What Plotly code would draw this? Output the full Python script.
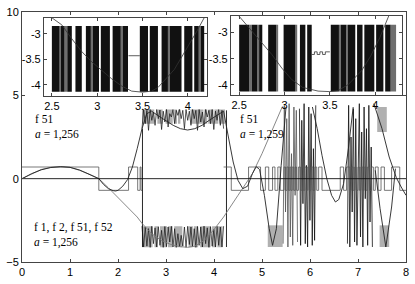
import plotly.graph_objects as go

# ---------------- data ----------------
x_ticks = [0, 1, 2, 3, 4, 5, 6, 7, 8]
y_ticks = [-5, 0, 5, 10]
inset_x_ticks = [2.5, 3, 3.5, 4]
inset_y_ticks = [-3, -3.5, -4]

# slow curve (grey)
q_x = [0, 0.2, 0.4, 0.6, 0.85, 1.0, 1.2, 1.4, 1.6, 1.8, 2.0, 2.2, 2.4, 2.5, 2.7, 2.9, 3.1, 3.3,
       3.45, 3.6, 3.8, 4.0, 4.2, 4.5, 4.8, 5.0, 5.17, 5.3, 5.42]
q_y = [0, 0.3, 0.55, 0.68, 0.72, 0.68, 0.5, 0.27, 0.0, -0.55, -1.15, -1.75, -2.3, -2.68, -3.3, -3.7,
       -3.95, -4.08, -4.12, -4.05, -3.7, -3.05, -2.3, -1.0, 0.3, 1.5, 2.6, 3.5, 4.3]

# fast curve (black)
p_x = [0, 0.2, 0.4, 0.6, 0.8, 0.9, 1.0, 1.2, 1.4, 1.6, 1.7, 1.8, 1.9, 1.95, 2.0, 2.1, 2.2, 2.3, 2.4,
       2.5, 2.6, 2.7, 2.85, 3.0, 3.15, 3.3, 3.45, 3.6, 3.75, 3.9, 4.05, 4.2, 4.3, 4.4, 4.5, 4.6, 4.7,
       4.8, 4.88, 4.95, 5.05, 5.15, 5.22, 5.3, 5.4, 5.5, None,
       6.05, 6.15, 6.25, 6.35, 6.45, 6.53, 6.6, 6.7, 6.8, 6.9, None,
       7.33, 7.5, 7.65, 7.8, 7.9, 8.0, None,
       7.36, 7.46, 7.58, 7.7, 7.78]
p_y = [0, 0.3, 0.53, 0.67, 0.72, 0.71, 0.68, 0.52, 0.28, 0.0, -0.35, -0.6, -0.72, -0.74, -0.7, -0.45,
       -0.05, 0.7, 1.8, 3.0, 3.9, 4.05, 3.75, 3.45, 3.2, 3.0, 2.92, 3.0, 3.2, 3.5, 3.8, 4.05, 2.5, 1.0,
       -0.1, -0.6, -0.45, 0.3, 0.72, 0.55, -1.0, -3.0, -4.0, -3.0, 0.8, 4.3, None,
       4.3, 3.0, 1.4, 0.0, -1.0, -1.4, -1.25, -0.3, 1.8, 4.3, None,
       4.5, 3.0, 1.3, 0.05, -0.5, -1.0, None,
       0.5, -1.8, -4.1, -1.7, 0.6]

# sign-like square wave (+-0.7)
sq_x = [0, 1.6, 2.22, 2.41, 2.46, 2.48, 2.5, None,
        4.2, 4.36, 4.72, 4.97, 5.07, 5.14, 5.22, 5.27, 5.33, 5.38, 5.46, 5.49, 5.52, 5.55, 5.58,
        5.6, 5.63, 5.66, 5.69, 5.72, 5.76, 5.8, 5.83, 5.86, 5.89, 5.92, 5.95, 5.98, 6.02, 6.06,
        6.1, 6.14, 6.18, 6.25, 6.63, 6.7, 6.76, 6.83, 6.86, 6.9, 6.93, 6.96, 7.0, 7.03, 7.06,
        7.1, 7.13, 7.17, 7.2, 7.24, 7.28, 7.32, 7.36, 7.42, 7.48, 7.55, 7.7, 7.87, 8.0]
sq_y = [0.7, -0.7, 0.7, -0.7, 0.7, -0.7, -0.7, None,
        0.7, -0.7, 0.7, -0.7, 0.7, -0.7, 0.7, -0.7, 0.7, -0.7, 0.7, -0.7, 0.7, -0.7, 0.7,
        -0.7, 0.7, -0.7, 0.7, -0.7, 0.7, -0.7, 0.7, -0.7, 0.7, -0.7, 0.7, -0.7, 0.7, -0.7,
        0.7, -0.7, 0.7, -0.7, 0.7, -0.7, 0.7, -0.7, 0.7, -0.7, 0.7, -0.7, 0.7, -0.7, 0.7,
        -0.7, 0.7, -0.7, 0.7, -0.7, 0.7, -0.7, 0.7, -0.7, 0.7, -0.7, 0.7, -0.7, -0.7]

# chaotic bands of the main plot, 2.5 .. 4.2
band_start, band_end = 2.5, 4.2
low_band = [-2.85, -4.10, -2.90, -4.05, -3.00, -4.12, -2.86, -3.90, -2.95, -4.10,
            -2.88, -4.00, -3.10, -4.12, -2.87, -4.08, -2.90, -3.80, -2.86, -4.10,
            -3.00, -4.12, -3.30, -4.10, -3.40, -4.05, -2.90, -4.12, -2.86, -3.95,
            -2.90, -4.10, -3.00, -4.12, -2.87, -4.00, -2.90, -4.10, -2.85, -3.90,
            -2.95, -4.12, -2.88, -4.05, -3.05, -4.10, -2.86, -4.00, -2.90, -4.10, -2.85]
up_band = [3.0, 4.15, 3.3, 4.10, 2.9, 4.15, 3.5, 4.0, 3.2, 4.15,
           3.6, 4.12, 2.95, 4.05, 3.4, 4.15, 3.1, 3.9, 3.7, 4.15,
           3.3, 4.1, 3.8, 4.15, 3.6, 4.1, 3.0, 4.15, 3.5, 4.05,
           3.2, 4.15, 3.6, 4.1, 2.9, 4.15, 3.4, 4.0, 3.1, 4.15,
           3.7, 4.1, 3.3, 4.15, 2.95, 4.05, 3.5, 4.15, 3.2, 4.1, 3.0]
jump_x = [2.51, 2.51, None, 4.26, 4.26]
jump_y = [3.0, -4.1, None, 4.1, -4.1]

# chaotic spikes on the right
spk1_start, spk1_end = 5.44, 5.74
spk1 = [-3.9, 4.4, -2.0, 3.6, -4.1, 4.5, -3.5, 1.5, -4.0, 4.3, -1.0, 4.1, -3.8]
spk2_start, spk2_end = 5.78, 6.12
spk2 = [4.2, -4.0, 3.5, -1.5, 4.5, -3.9, 0.8, -4.1, 4.3, -2.5, 3.9, -4.0, 1.8, -3.7, 4.4]
spk3_start, spk3_end = 6.78, 7.30
spk3 = [-3.9, 4.4, -4.1, 2.5, -2.0, 4.2, -3.8, 3.6, -4.0, 1.0, 4.5, -3.5, 2.8, -4.1, 4.3, -1.2,
        3.0, -4.0, 4.4, -2.6, 1.9, -4.1]
extra_blocks = [(5.12, 5.43, -4.1, -2.8), (7.40, 7.60, 2.8, 4.3), (7.45, 7.65, -4.1, -2.8)]

# inset a = 1,256 (left) : dense bursts between -2.85 and -4.13
inL_black = [(2.50, 2.585), (2.60, 2.64), (2.67, 2.72), (2.76, 2.83), (2.875, 2.93), (2.95, 3.02),
             (3.04, 3.14), (3.17, 3.26), (3.28, 3.34), (3.47, 3.56), (3.58, 3.67), (3.71, 3.78),
             (3.80, 3.93), (3.96, 4.05), (4.07, 4.12), (4.14, 4.18)]
inL_grey = [(2.585, 2.60), (2.64, 2.67), (2.93, 2.95), (3.26, 3.28), (3.78, 3.80), (4.12, 4.14)]
uL_x = [2.5, 2.61, 2.72, 2.83, 2.94, 3.05, 3.16, 3.27, 3.38, 3.5, 3.6, 3.67, 3.75, 3.85, 3.93,
        4.02, 4.1, 4.18]
uL_y = [-2.69, -2.83, -3.1, -3.35, -3.55, -3.72, -3.88, -4.02, -4.12, -4.14, -4.12, -4.05, -3.9,
        -3.7, -3.46, -3.2, -2.95, -2.69]
stepL_x = [3.345, 3.47]
stepL_y = [-3.43, -3.43]

# inset a = 1,259 (right)
inR_black = [(2.50, 2.61), (2.64, 2.70), (2.72, 2.755), (2.82, 2.91), (2.99, 3.12), (3.17, 3.23),
             (3.25, 3.30), (3.51, 3.60), (3.62, 3.68), (3.70, 3.78), (3.80, 3.86), (3.88, 3.99),
             (4.01, 4.09), (4.11, 4.17)]
inR_grey = [(2.61, 2.64), (2.70, 2.72), (2.91, 2.93), (3.12, 3.14), (3.60, 3.62), (3.68, 3.70),
            (4.17, 4.23)]
uR_x = [2.48, 2.6, 2.75, 2.86, 2.97, 3.08, 3.2, 3.37, 3.5, 3.59, 3.7, 3.85, 3.95, 4.05, 4.15]
uR_y = [-2.65, -2.9, -3.2, -3.42, -3.68, -3.9, -4.05, -4.12, -4.13, -4.11, -4.0, -3.73, -3.45,
        -3.1, -2.68]
stepR_x = [3.30, 3.33, 3.36, 3.39, 3.42, 3.45, 3.50]
stepR_y = [-3.42, -3.37, -3.42, -3.37, -3.42, -3.37, -3.37]
inset_band = (-4.13, -2.85)

BLACK = "#111111"
GREY = "#7a7a7a"
BAND = "#b0b0b0"

fig = go.Figure()


def blocks(ranges, lo, hi, color, xa="x", ya="y"):
    xs, ys = [], []
    for a, b in ranges:
        xs += [a, b, b, a, a, None]
        ys += [lo, lo, hi, hi, lo, None]
    fig.add_trace(go.Scatter(x=xs, y=ys, mode="lines", fill="toself", fillcolor=color,
                             line=dict(width=0, color=color), xaxis=xa, yaxis=ya,
                             hoverinfo="skip", showlegend=False))


def line(x, y, color, width=0.8, xa="x", ya="y", shape="linear"):
    fig.add_trace(go.Scatter(x=x, y=y, mode="lines", line=dict(color=color, width=width, shape=shape),
                             xaxis=xa, yaxis=ya, hoverinfo="skip", showlegend=False,
                             connectgaps=False))


def seq(vals, start, end, color, width=0.8):
    dx = (end - start) / (len(vals) - 1)
    fig.add_trace(go.Scatter(y=vals, x0=start, dx=dx, mode="lines",
                             line=dict(color=color, width=width), hoverinfo="skip",
                             showlegend=False))


# ---- main plot ----
blocks(inL_black + inL_grey, -4.12, -2.86, BAND)
blocks(inR_black + inR_grey, 3.3, 4.15, BAND)
for a, b, lo, hi in extra_blocks:
    blocks([(a, b)], lo, hi, BAND)
seq(low_band, band_start, band_end, BLACK, 0.7)
seq(up_band, band_start, band_end, BLACK, 0.7)
line(jump_x, jump_y, BLACK, 0.9)
seq(spk1, spk1_start, spk1_end, "#555555", 0.8)
seq(spk2, spk2_start, spk2_end, BLACK, 0.8)
seq(spk3, spk3_start, spk3_end, BLACK, 0.8)
line(sq_x, sq_y, "#555555", 0.8, shape="hv")
line(q_x, q_y, GREY, 0.9)
line(p_x, p_y, "#222222", 0.9)
line([0, 8], [0, 0], BLACK, 0.9)

# ---- left inset ----
blocks(inL_grey, inset_band[0], inset_band[1], "#6e6e6e", "x2", "y2")
blocks(inL_black, inset_band[0], inset_band[1], BLACK, "x2", "y2")
line(uL_x, uL_y, "#333333", 0.8, "x2", "y2")
line(stepL_x, stepL_y, "#333333", 0.8, "x2", "y2")

# ---- right inset ----
blocks(inR_grey, inset_band[0], inset_band[1], "#6e6e6e", "x3", "y3")
blocks(inR_black, inset_band[0], inset_band[1], BLACK, "x3", "y3")
line(uR_x, uR_y, "#333333", 0.8, "x3", "y3")
line(stepR_x, stepR_y, "#333333", 0.8, "x3", "y3", shape="hv")

tickfont = dict(family="Liberation Sans, Arial, sans-serif", size=11, color="black")
ax_common = dict(showline=True, mirror="ticks", linecolor="#444444", linewidth=1,
                 ticks="inside", ticklen=3, tickcolor="#444444", showgrid=False,
                 zeroline=False, tickfont=tickfont, ticklabeloverflow="allow")

fig.update_layout(
    width=415, height=284,
    margin=dict(l=20, r=9, t=6, b=16),
    paper_bgcolor="white", plot_bgcolor="white",
    showlegend=False,
    xaxis=dict(domain=[0, 1], range=[0, 8], tickvals=x_ticks, **ax_common),
    yaxis=dict(domain=[0, 1], range=[-5, 10], tickvals=y_ticks, **ax_common),
    xaxis2=dict(domain=[0.057, 0.482], range=[2.412, 4.212], anchor="y2",
                tickvals=inset_x_ticks, ticktext=["2.5", "3", "3.5", "4"], **ax_common),
    yaxis2=dict(domain=[0.665, 0.977], range=[-4.21, -2.69], anchor="x2",
                tickvals=inset_y_ticks, ticktext=["-3", "-3.5", "-4"], **ax_common),
    xaxis3=dict(domain=[0.544, 0.99], range=[2.409, 4.297], anchor="y3",
                tickvals=inset_x_ticks, ticktext=["2.5", "3", "3.5", "4"], **ax_common),
    yaxis3=dict(domain=[0.669, 0.985], range=[-4.19, -2.68], anchor="x3",
                tickvals=inset_y_ticks, ticktext=["-3", "-3.5", "-4"], **ax_common),
)

serif = dict(family="Liberation Serif, Times New Roman, serif", size=11.5, color="black")
labels = [
    (0.22, 3.12, "f 51<br><i>a</i> = 1,256"),
    (4.50, 3.12, "f 51<br><i>a</i> = 1,259"),
    (0.2, -3.37, "f 1, f 2, f 51, f 52<br><i>a</i> = 1,256"),
]
for lx, ly, txt in labels:
    fig.add_annotation(x=lx, y=ly, xref="x", yref="y", text=txt, showarrow=False,
                       xanchor="left", yanchor="middle", align="left", font=serif)

fig.write_html("out.html")
